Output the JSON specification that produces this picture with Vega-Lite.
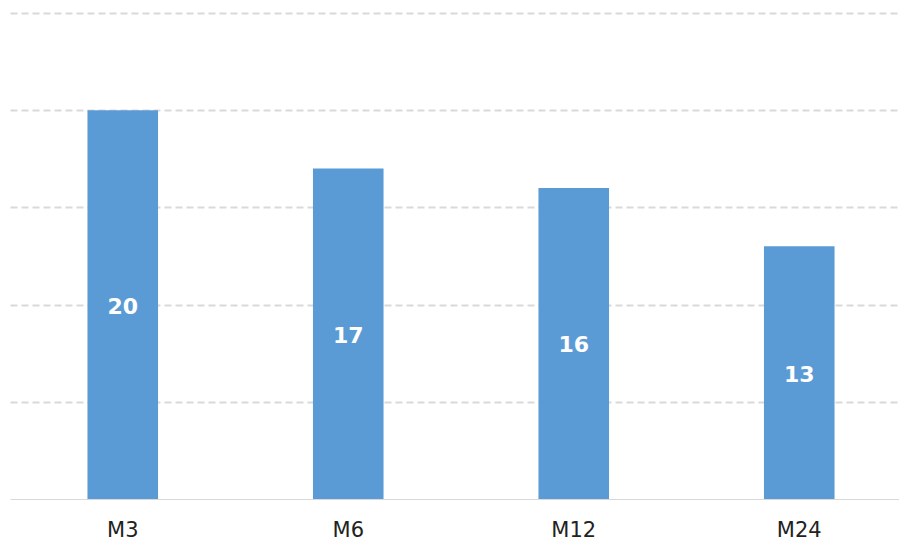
{
  "$schema": "https://vega.github.io/schema/vega-lite/v6.json",
  "autosize": "none",
  "width": 902,
  "height": 486,
  "padding": {"left": 10, "top": 13, "right": 0, "bottom": 43},
  "background": "white",
  "config": {"view": {"stroke": null}},
  "data": {"values": [
    {"period": "M3", "value": 20},
    {"period": "M6", "value": 17},
    {"period": "M12", "value": 16},
    {"period": "M24", "value": 13}
  ]},
  "encoding": {
    "x": {
      "field": "period", "type": "nominal", "sort": null,
      "scale": {"paddingInner": 0.687, "paddingOuter": 0.3435},
      "axis": {
        "title": null, "labelAngle": 0, "ticks": false,
        "domainColor": "#d9d9d9", "domainWidth": 1,
        "labelFont": "DejaVu Sans", "labelFontSize": 21, "labelColor": "#222222",
        "labelPadding": 20
      }
    }
  },
  "layer": [
    {
      "mark": {"type": "bar", "color": "#5B9BD5"},
      "encoding": {
        "y": {
          "field": "value", "type": "quantitative",
          "scale": {"domain": [0, 25], "nice": false},
          "axis": {
            "title": null, "labels": false, "ticks": false, "domain": false,
            "values": [5, 10, 15, 20, 25],
            "gridColor": "#d9d9d9", "gridWidth": 2, "gridDash": [7, 4]
          }
        }
      }
    },
    {
      "mark": {"type": "text", "color": "white", "font": "DejaVu Sans", "fontWeight": "bold", "fontSize": 22, "baseline": "middle", "dy": 2},
      "encoding": {
        "y": {"field": "value", "type": "quantitative", "scale": {"domain": [0, 50], "nice": false}, "axis": null},
        "text": {"field": "value", "type": "quantitative"}
      }
    }
  ],
  "resolve": {"scale": {"y": "independent"}}
}
